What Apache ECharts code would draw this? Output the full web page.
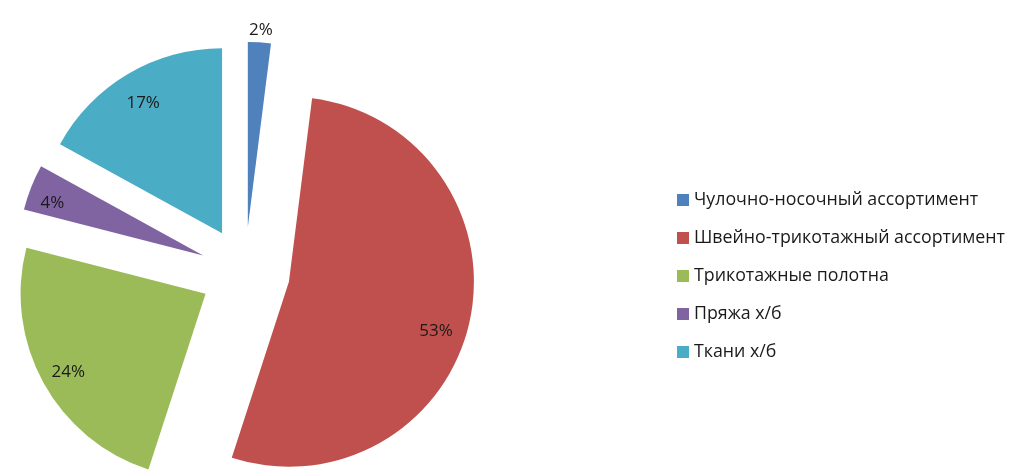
<!DOCTYPE html>
<html>
<head>
<meta charset="utf-8">
<script src="https://cdn.jsdelivr.net/npm/echarts@6/dist/echarts.min.js"></script>
<style>
  html, body { margin: 0; padding: 0; background: #fff; }
  #chart { width: 1009px; height: 470px; }
</style>
</head>
<body>
<div id="chart"></div>
<script>
// данные диаграммы
const categories = ["Чулочно-носочный ассортимент", "Швейно-трикотажный ассортимент", "Трикотажные полотна", "Пряжа х/б", "Ткани х/б"];
const shares = [2, 53, 24, 4, 17];
const colors = ['#4F81BD', '#C0504D', '#9BBB59', '#8064A2', '#4BACC6'];

const font = '"Open Sans", "Noto Sans", sans-serif';
const center = [245, 272];
const explode = 45;
// небольшие сдвиги подписей, как расставил их Excel
const labelNudge = [[3, -38], [-8, 15], [2, 2], [-3, 6], [2, 7]];

const chart = echarts.init(document.getElementById('chart'));

const sliceData = categories.map((name, i) => ({
    name, value: shares[i], selected: true,
    itemStyle: { color: colors[i] }
}));

// прозрачный ряд только для подписей (ближе к краю, как в Excel)
const labelData = categories.map((name, i) => ({ name, value: shares[i], selected: true }));

chart.setOption({
    animation: false,
    legend: {
        orient: 'vertical',
        left: 677,
        top: 191,
        padding: 0,
        icon: 'rect',
        itemWidth: 12,
        itemHeight: 12,
        itemGap: 20,
        data: categories,
        textStyle: { fontFamily: font, fontSize: 17.8, color: '#1a1a1a', lineHeight: 18 }
    },
    series: [
        {
            type: 'pie',
            center: center,
            radius: 185,
            startAngle: 90,
            selectedMode: 'multiple',
            selectedOffset: explode,
            silent: true,
            label: { show: false },
            labelLine: { show: false },
            data: sliceData
        },
        {
            type: 'pie',
            center: center,
            radius: 312,
            startAngle: 90,
            selectedMode: 'multiple',
            selectedOffset: explode,
            silent: true,
            itemStyle: { color: 'rgba(0,0,0,0)' },
            labelLine: { show: false },
            label: {
                show: true,
                position: 'inside',
                formatter: '{d}%',
                fontFamily: font,
                fontSize: 17,
                color: '#1a1a1a'
            },
            labelLayout: p => ({ dx: labelNudge[p.dataIndex][0], dy: labelNudge[p.dataIndex][1] }),
            data: labelData
        }
    ]
});
</script>
</body>
</html>
